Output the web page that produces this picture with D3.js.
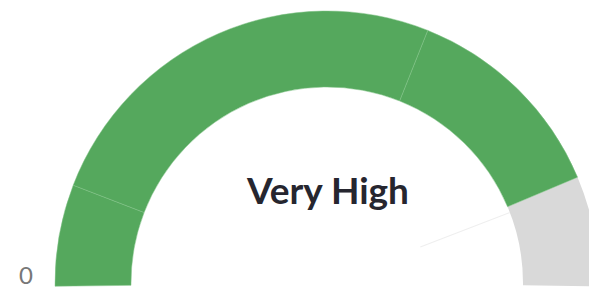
<!DOCTYPE html>
<html><head><meta charset="utf-8">
<script src="https://cdn.jsdelivr.net/npm/d3@7"></script>
<style>html,body{margin:0;padding:0;background:#fff;overflow:hidden}</style>
</head><body><svg id="c" width="589" height="288"></svg>
<script>
// Gauge data
const bandValues = [12, 50, 25];          // green bands (value 0..87)
const bandColors = ["#55a85d", "#55a85d", "#55a85d"];
const gaugeMin = 0, gaugeMax = 100;
const gaugeValue = 87;
const needleValue = 88;
const valueLabel = "Very High";
const minLabel = "0";

const svg = d3.select("#c");
const cx = 327, cy = 283, rOuter = 272, rInner = 196;
const g = svg.append("g").attr("transform", `translate(${cx},${cy})`);

const ext = 0.012;
const ang = d3.scaleLinear().domain([gaugeMin, gaugeMax]).range([-Math.PI / 2 - ext, Math.PI / 2 + ext]);
const arc = d3.arc().innerRadius(rInner).outerRadius(rOuter);

// background (gray remainder)
g.append("path")
  .attr("d", arc({startAngle: ang(gaugeValue), endAngle: ang(gaugeMax)}))
  .attr("fill", "#d9d9d9");

// green bands
let acc = gaugeMin;
const bands = bandValues.map((v, i) => { const b = {s: acc, e: acc + v, c: bandColors[i]}; acc += v; return b; });
g.selectAll("path.band").data(bands).join("path")
  .attr("class", "band")
  .attr("d", d => arc({startAngle: ang(d.s), endAngle: ang(d.e)}))
  .attr("fill", d => d.c)
  .attr("stroke", "#80c286").attr("stroke-width", 0.5);

// faint needle
const na = ang(needleValue);
g.append("line")
  .attr("x1", Math.sin(na) * 100).attr("y1", -Math.cos(na) * 100)
  .attr("x2", Math.sin(na) * rInner).attr("y2", -Math.cos(na) * rInner)
  .attr("stroke", "#efefef").attr("stroke-width", 1.2);

// center label
g.append("text").attr("x", 1).attr("y", -79)
  .attr("text-anchor", "middle")
  .attr("font-family", "Lato, sans-serif").attr("font-weight", 700).attr("font-size", 37)
  .attr("fill", "#26262f").text(valueLabel);

// min label
svg.append("text").attr("x", 26).attr("y", 284)
  .attr("text-anchor", "middle")
  .attr("font-family", "Lato, sans-serif").attr("font-size", 24)
  .attr("fill", "#777").text(minLabel);
</script></body></html>
